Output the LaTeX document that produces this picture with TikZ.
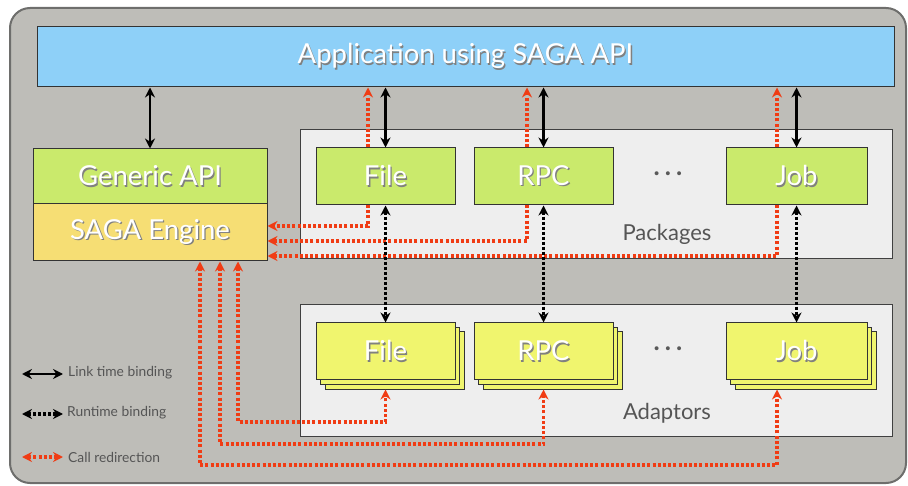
\documentclass[tikz,border=0pt]{standalone}
\usepackage{fontspec}
\setmainfont{Lato}
\usetikzlibrary{arrows.meta,shadows,calc}
\definecolor{outerbg}{RGB}{190,189,184}
\definecolor{outerln}{RGB}{110,110,108}
\definecolor{appblue}{RGB}{142,208,248}
\definecolor{apigreen}{RGB}{202,234,108}
\definecolor{engyellow}{RGB}{246,222,116}
\definecolor{adyellow}{RGB}{240,245,110}
\definecolor{panelbg}{RGB}{238,238,238}
\definecolor{redir}{RGB}{240,60,20}
\definecolor{labelgray}{RGB}{85,85,85}
\newcommand\shtext[1]{\leavevmode\rlap{\raisebox{-1.3pt}{\hspace{1.3pt}\textcolor{black!50}{#1}}}\textcolor{white}{#1}}
\begin{document}
\begin{tikzpicture}[x=1pt,y=-1pt,
  box/.style={draw=black!80, line width=1pt, inner sep=0pt, font=\fontsize{27.5}{30}\selectfont},
  panel/.style={draw=black!75, line width=1pt, fill=panelbg, inner sep=0pt},
  pkg/.style={box, fill=apigreen, minimum width=139pt, minimum height=57pt},
  adp/.style={box, fill=adyellow, minimum width=139pt, minimum height=57pt,
     double copy shadow={shadow xshift=4.5pt, shadow yshift=-4.5pt, fill=adyellow, draw=black!80, line width=1pt}},
  tips/.style={{Stealth[length=10pt,width=10pt]}-{Stealth[length=10pt,width=10pt]}},
  link/.style={black, line width=2.8pt, tips},
  runtime/.style={black, line width=3.2pt, dash pattern=on 3pt off 2pt, tips},
  redline/.style={redir, line width=3.3pt, dash pattern=on 3pt off 2.2pt},
  rtip/.style={-{Stealth[length=10pt,width=10pt]}},
  legtext/.style={anchor=west, text=labelgray, font=\fontsize{13.8}{15}\selectfont, inner sep=0pt},
  paneltext/.style={text=labelgray, font=\fontsize{22}{25}\selectfont, inner sep=0pt},
  dotstext/.style={text=black!65, font=\bfseries\fontsize{26}{28}\selectfont, inner sep=0pt}
]
\useasboundingbox (0,0) rectangle (908,486);
% outer frame
\draw[outerln, line width=2pt, fill=outerbg, rounded corners=20pt] (10,8) rectangle (906,483);

% panels
\node[panel, minimum width=592pt, minimum height=129pt] (pkgpanel) at (596,194.5) {};
\node[panel, minimum width=592pt, minimum height=131pt] (adpanel) at (596,370.5) {};
\node[paneltext] (pkglabel) at (667,234) {Packages};
\node[paneltext] (adlabel) at (667,413) {Adaptors};

% coordinates for redirection columns
\coordinate (rf) at (368,0);
\coordinate (rr) at (527,0);
\coordinate (rj) at (777,0);
\coordinate (ea) at (238,0);
\coordinate (eb) at (220,0);
\coordinate (ec) at (200,0);
\coordinate (ya) at (0,422);
\coordinate (yb) at (0,444);
\coordinate (yc) at (0,465);

% main boxes
\node[box, fill=appblue, minimum width=857pt, minimum height=60pt] (app) at (465.5,57) {\shtext{Application using SAGA API}};
\node[box, fill=apigreen, minimum width=234pt, minimum height=55pt] (gen) at (150,176.5) {\shtext{Generic API}};
\node[box, fill=engyellow, minimum width=234pt, minimum height=57pt] (eng) at (150,232.5) {\shtext{SAGA Engine}};

% red redirection lines behind package boxes
\draw[redline, rtip] (rf |- 0,205) |- ($(eng.east)+(0,-6.5)$);
\draw[redline, rtip] (rr |- 0,205) |- ($(eng.east)+(0,8.5)$);
\draw[redline, rtip] (rj |- 0,205) |- ($(eng.east)+(0,23.5)$);

% package boxes
\node[pkg] (pfile) at (385.5,176.5) {\shtext{File}};
\node[pkg] (prpc) at (543.5,176.5) {\shtext{RPC}};
\node[pkg, minimum width=141pt] (pjob) at (796.5,176.5) {\shtext{Job}};
\node[dotstext] (pdots) at (668,174) {.\hspace{5pt}.\hspace{5pt}.};

% adaptor boxes
\node[adp] (afile) at (385.5,351.5) {\shtext{File}};
\node[adp] (arpc) at (543.5,351.5) {\shtext{RPC}};
\node[adp, minimum width=141pt] (ajob) at (796.5,351.5) {\shtext{Job}};
\node[dotstext] (adots) at (668,349) {.\hspace{5pt}.\hspace{5pt}.};

% link-time binding
\draw[link] (gen.north) -- (gen.north |- app.south);
\draw[link] (pfile.north) -- (pfile.north |- app.south);
\draw[link] (prpc.north) -- (prpc.north |- app.south);
\draw[link] (pjob.north) -- (pjob.north |- app.south);

% redirection up to application
\draw[redline, rtip] (rf |- pfile.north) -- (rf |- app.south);
\draw[redline, rtip] (rr |- prpc.north) -- (rr |- app.south);
\draw[redline, rtip] (rj |- pjob.north) -- (rj |- app.south);

% runtime binding
\draw[runtime] (pfile.south) -- (afile.north);
\draw[runtime] (prpc.south) -- (arpc.north);
\draw[runtime] (pjob.south) -- (ajob.north);

% redirection from engine to adaptors
\draw[redline, tips] (ea |- eng.south) -- (ea |- ya) -| ($(afile.south)+(0,9)$);
\draw[redline, tips] (eb |- eng.south) -- (eb |- yb) -| ($(arpc.south)+(0,9)$);
\draw[redline, tips] (ec |- eng.south) -- (ec |- yc) -| ($(rj |- ajob.south)+(0,9)$);

% legend
\coordinate (l1a) at (22,374); \coordinate (l1b) at (63,374);
\coordinate (l2a) at (22,414); \coordinate (l2b) at (63,414);
\coordinate (l3a) at (22,457); \coordinate (l3b) at (63,457);
\draw[link] (l1a) -- (l1b);
\draw[runtime] (l2a) -- (l2b);
\draw[redline, tips] (l3a) -- (l3b);
\node[legtext] (lt1) at (68,373) {Link time binding};
\node[legtext] (lt2) at (67,413) {Runtime binding};
\node[legtext] (lt3) at (68,457) {Call redirection};
\end{tikzpicture}
\end{document}
